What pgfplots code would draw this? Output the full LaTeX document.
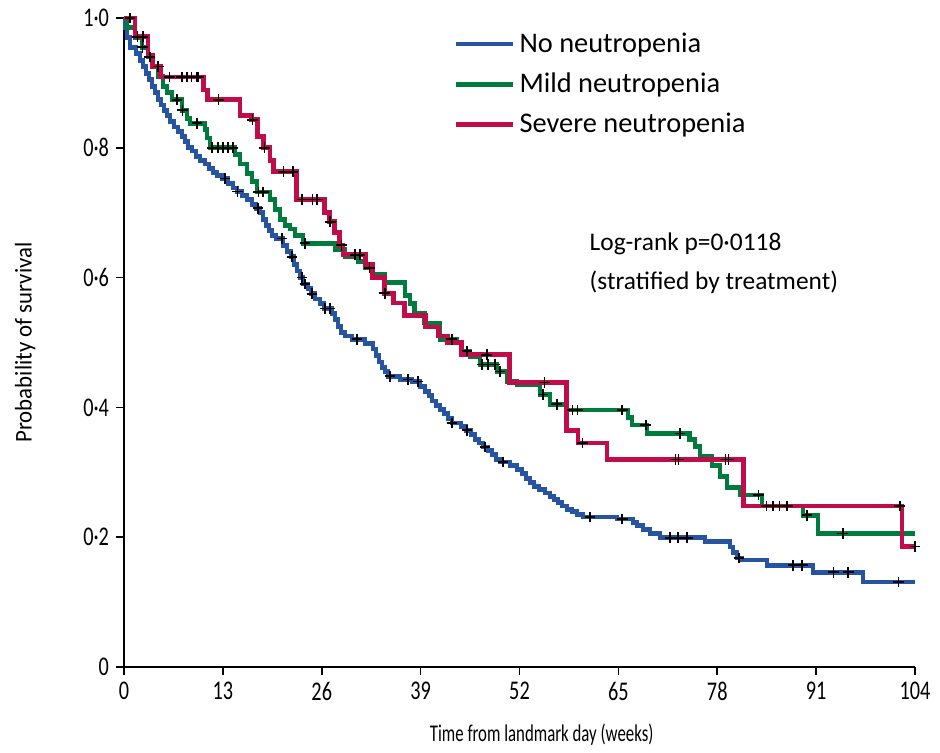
\documentclass[border=0pt]{standalone}
\usepackage{fontspec}
\setmainfont{Carlito}
\newfontfamily\xlabfont{Carlito}[FakeStretch=0.7]
\newfontfamily\ylabfont{Carlito}[FakeStretch=0.95]
\newfontfamily\tickfont{Carlito}[FakeStretch=0.75]
\usepackage{pgfplots}
\pgfplotsset{compat=1.18}
\definecolor{nblue}{RGB}{38,84,160}
\definecolor{ngreen}{RGB}{0,122,61}
\definecolor{nred}{RGB}{192,12,72}
\begin{document}
\begin{tikzpicture}
\begin{axis}[
  scale only axis, width=395.5pt, height=324.5pt,
  xmin=0, xmax=104, ymin=0, ymax=1,
  axis lines*=left,
  axis line style={line width=0.8pt,-},
  tick align=outside, major tick length=4pt,
  tick style={line width=0.8pt,black},
  xtick={0,13,26,39,52,65,78,91,104},
  xticklabels={0,13,26,39,52,65,78,91,104},
  ytick={0,0.2,0.4,0.6,0.8,1.0},
  yticklabels={0,0·2,0·4,0·6,0·8,1·0},
  ticklabel style={font=\tickfont\fontsize{13.5}{15}\selectfont},
  xlabel={Time from landmark day (weeks)},
  ylabel={Probability of survival},
  xlabel style={font=\xlabfont\fontsize{12}{14}\selectfont, at={(axis description cs:0.528,-0.105)}, anchor=center},
  ylabel style={font=\ylabfont\fontsize{12}{14}\selectfont, at={(axis description cs:-0.125,0.5)}, anchor=center},
  clip=false,
  legend cell align=left,
  legend style={draw=none, fill=none, at={(axis cs:43.3,0.984)}, anchor=north west,
    font=\fontsize{14.2}{16}\selectfont, row sep=4.8pt, inner sep=0pt},
  legend image code/.code={\draw[#1] (0pt,0pt) -- (28.5pt,0pt);},
  cens/.style={only marks, mark=+, mark size=2.7pt, mark options={black, line width=0.75pt}, forget plot},
]
% No neutropenia
\addplot[const plot, color=nblue, line width=2.4pt] coordinates {
(0,1.0) (0.13,0.985) (0.39,0.97) (0.79,0.955) (1.58,0.945) (2.10,0.935) (2.50,0.925)
(2.89,0.915) (3.29,0.905) (3.68,0.895) (4.08,0.885) (4.47,0.875) (4.86,0.866) (5.26,0.858)
(5.65,0.85) (6.05,0.84) (6.57,0.832) (7.10,0.825) (7.63,0.818) (8.02,0.81) (8.41,0.80)
(8.94,0.795) (9.47,0.787) (9.99,0.78) (10.65,0.775) (11.18,0.768) (11.70,0.762) (12.23,0.757)
(12.89,0.753) (13.67,0.745) (14.33,0.738) (14.86,0.733) (15.51,0.727) (16.17,0.72) (16.83,0.713)
(17.36,0.707) (17.88,0.70) (18.28,0.69) (18.67,0.68) (19.06,0.672) (19.46,0.665) (19.99,0.66)
(20.91,0.65) (21.43,0.64) (21.96,0.632) (22.35,0.62) (22.75,0.61) (23.14,0.60) (23.53,0.59)
(24.19,0.583) (24.59,0.575) (25.11,0.567) (25.77,0.56) (26.30,0.552) (27.35,0.545) (27.74,0.535)
(28.14,0.525) (28.53,0.515) (29.06,0.51) (29.98,0.505) (31.69,0.498) (32.74,0.49) (33.13,0.48)
(33.53,0.47) (33.92,0.462) (34.32,0.455) (34.71,0.448) (36.29,0.443) (37.87,0.44) (38.92,0.432)
(39.57,0.425) (40.10,0.418) (40.50,0.41) (41.02,0.403) (41.55,0.397) (42.07,0.39) (42.60,0.383)
(43.12,0.376) (44.31,0.37) (44.97,0.365) (45.62,0.358) (46.15,0.35) (46.68,0.345) (47.20,0.339)
(47.86,0.333) (48.38,0.327) (48.91,0.32) (49.43,0.316) (50.75,0.31) (51.67,0.304) (52.33,0.298)
(52.85,0.291) (53.38,0.284) (53.91,0.278) (54.56,0.273) (55.35,0.268) (56.01,0.263) (56.54,0.258)
(57.06,0.253) (57.59,0.248) (58.24,0.243) (58.90,0.239) (59.56,0.235) (60.35,0.231) (64.82,0.228)
(66.92,0.223) (67.45,0.218) (68.24,0.212) (69.16,0.206) (70.47,0.199) (76.39,0.193) (79.67,0.185)
(80.07,0.176) (80.59,0.168) (81.25,0.165) (84.54,0.157) (90.59,0.146) (97.17,0.131) (104,0.131)
};
\addlegendentry{No neutropenia}
% Mild neutropenia
\addplot[const plot, color=ngreen, line width=2.4pt] coordinates {
(0,1.0) (0.39,0.985) (1.45,0.97) (2.37,0.955) (3.16,0.94) (3.81,0.925) (4.47,0.91) (5.13,0.895)
(5.65,0.885) (6.31,0.874) (7.63,0.858) (8.28,0.845) (8.68,0.838) (10.65,0.828) (10.91,0.815)
(11.31,0.80) (14.59,0.79) (15.25,0.775) (16.17,0.76) (16.83,0.748) (17.49,0.732) (19.2,0.72)
(19.85,0.705) (20.51,0.69) (21.17,0.68) (21.83,0.675) (22.48,0.665) (23.53,0.653) (27.74,0.643)
(29.06,0.632) (30.77,0.625) (31.69,0.615) (32.61,0.605) (34.31,0.593) (36.94,0.572) (37.6,0.56)
(38.23,0.545) (39.55,0.53) (41.55,0.505) (43.78,0.50) (44.44,0.487) (45.49,0.478) (46.8,0.466)
(49.04,0.455) (50.36,0.44) (51.67,0.435) (54.69,0.42) (56.0,0.405) (58.24,0.396) (66.26,0.385)
(66.79,0.373) (68.76,0.36) (74.4,0.35) (75.07,0.34) (75.73,0.324) (77.31,0.311) (78.36,0.293)
(79.28,0.277) (80.99,0.265) (83.88,0.248) (89.27,0.234) (91.24,0.206) (104,0.206)
};
\addlegendentry{Mild neutropenia}
% Severe neutropenia
\addplot[const plot, color=nred, line width=2.4pt] coordinates {
(0,1.0) (1.45,0.971) (3.16,0.943) (3.7,0.925) (4.8,0.909) (10.4,0.889) (11.0,0.874) (15.25,0.85)
(16.8,0.843) (17.6,0.817) (18.3,0.80) (19.2,0.78) (19.7,0.763) (22.7,0.72) (26.4,0.70) (27.0,0.686)
(27.7,0.67) (28.3,0.65) (28.8,0.635) (31.8,0.62) (32.7,0.60) (34.3,0.576) (35.4,0.561) (36.9,0.542)
(39.6,0.524) (41.3,0.51) (42.5,0.50) (44.4,0.481) (50.7,0.438) (58.2,0.365) (59.7,0.345) (63.5,0.32)
(81.4,0.248) (102.3,0.186) (104,0.186)
};
\addlegendentry{Severe neutropenia}
% censor marks
\addplot[cens] coordinates {
(13.28,0.753) (14.9,0.733) (17.62,0.707) (20.77,0.66) (22.09,0.632) (23.40,0.60) (23.80,0.59)
(24.72,0.575) (26.43,0.552) (27.08,0.552) (30.63,0.505) (34.97,0.448) (37.34,0.443) (38.66,0.44)
(43.12,0.376) (45.10,0.365) (47.46,0.339) (49.83,0.316) (61.27,0.231) (65.50,0.228) (71.81,0.199)
(72.86,0.199) (74.05,0.199) (80.85,0.168) (87.99,0.157) (89.17,0.157) (93.25,0.146) (95.22,0.146)
(101.8,0.131)
};
\addplot[cens] coordinates {
(2.4,0.955) (3.4,0.94) (6.97,0.874) (7.7,0.858) (9.6,0.838) (11.57,0.80) (12.36,0.80) (13.0,0.80)
(13.67,0.80) (14.33,0.80) (17.7,0.732) (18.3,0.732) (23.8,0.653) (32.3,0.615) (43.1,0.505)
(45.1,0.487) (47.07,0.466) (47.86,0.466) (48.78,0.466) (49.43,0.455) (55.1,0.42) (56.9,0.405)
(59.0,0.396) (59.6,0.396) (65.5,0.396) (68.6,0.373) (73.1,0.36) (83.4,0.265) (86.2,0.248)
(87.2,0.248) (89.8,0.234) (94.5,0.206)
};
\addplot[cens] coordinates {
(0.8,1.0) (1.8,0.971) (2.5,0.971) (4.5,0.925) (6.0,0.909) (7.6,0.909) (8.3,0.909) (8.9,0.909)
(9.6,0.909) (9.8,0.909) (12.4,0.874) (16.9,0.843) (18.5,0.80) (21.0,0.763) (22.2,0.763)
(23.4,0.72) (24.8,0.72) (25.4,0.72) (27.1,0.686) (28.6,0.65) (30.4,0.635) (31.0,0.635)
(34.3,0.576) (47.7,0.481) (55.3,0.438) (60.3,0.345) (72.5,0.32) (72.9,0.32) (79.1,0.32)
(79.5,0.32) (84.5,0.248) (85.3,0.248) (102.0,0.248) (104.0,0.186)
};
\node[anchor=west, align=left, font=\fontsize{12.7}{19.5}\selectfont] at (axis cs:60.3,0.622)
  {Log-rank p=0·0118\\(stratified by treatment)};
\end{axis}
\path (current axis.south west) ++(-62pt,-41pt) rectangle ++(470pt,374.5pt);
\end{tikzpicture}
\end{document}
